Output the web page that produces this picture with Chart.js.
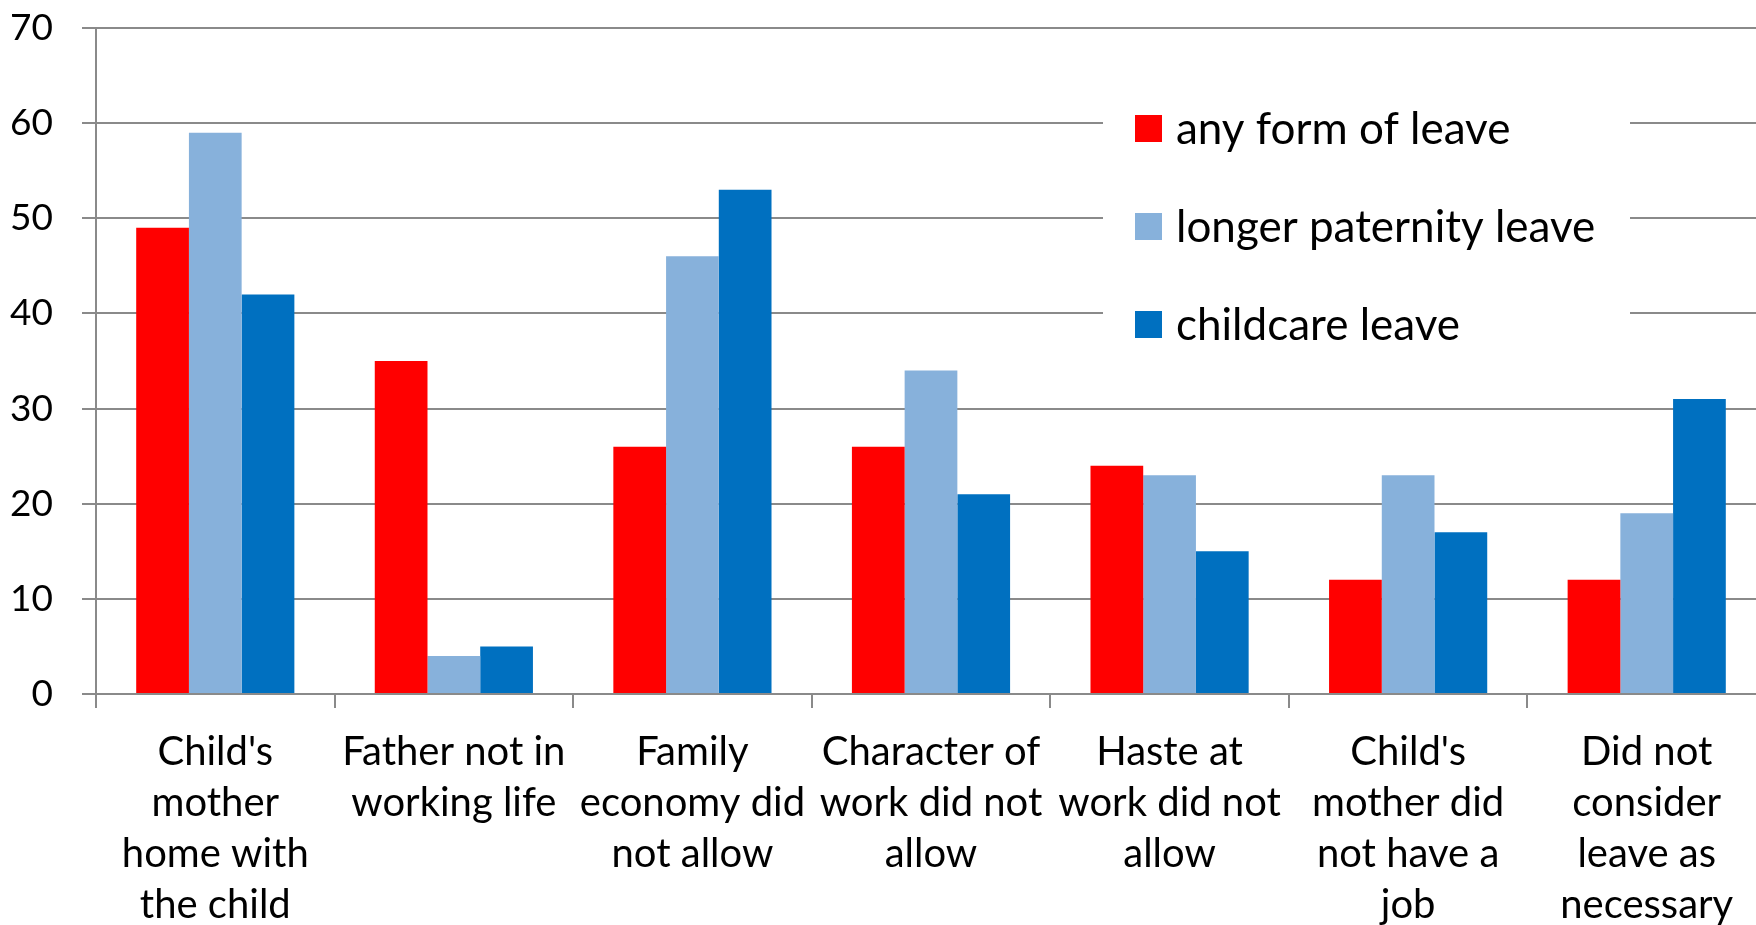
<!DOCTYPE html>
<html>
<head>
<meta charset="utf-8">
<script src="https://cdn.jsdelivr.net/npm/chart.js@4"></script>
<style>
    html, body { margin: 0; padding: 0; background: #fff; overflow: hidden; }
</style>
</head>
<body>
<canvas id="leaveChart" width="1770" height="925"></canvas>
<script>
const categories = [
    ["Child's", "mother", "home with", "the child"],
    ["Father not in", "working life"],
    ["Family", "economy did", "not allow"],
    ["Character of", "work did not", "allow"],
    ["Haste at", "work did not", "allow"],
    ["Child's", "mother did", "not have a", "job"],
    ["Did not", "consider", "leave as", "necessary"]
];
const seriesNames = ['any form of leave', 'longer paternity leave', 'childcare leave'];
const anyLeave = [49, 35, 26, 26, 24, 12, 12];
const longerPaternity = [59, 4, 46, 34, 23, 23, 19];
const childcareLeave = [42, 5, 53, 21, 15, 17, 31];
const yMin = 0, yMax = 70, yStep = 10;

const FONT = 'Lato';
const gridGray = '#8a8a8a';

// legend sits inside the plot on a white patch, like the original
const legendBox = {
    id: 'legendBox',
    afterDraw(chart) {
        const ctx = chart.ctx;
        ctx.save();
        ctx.fillStyle = '#fff';
        ctx.fillRect(1103, 80, 527, 290);
        ctx.font = '44px ' + FONT;
        ctx.textBaseline = 'middle';
        chart.data.datasets.forEach((ds, i) => {
            const y = 128.5 + i * 98;
            ctx.fillStyle = ds.backgroundColor;
            ctx.fillRect(1135, y - 13.5, 27, 27);
            ctx.fillStyle = '#000';
            ctx.fillText(ds.label, 1176, y + 1);
        });
        ctx.restore();
    }
};

function draw() {
    new Chart(document.getElementById('leaveChart'), {
        type: 'bar',
        data: {
            labels: categories,
            datasets: [
                { label: seriesNames[0], data: anyLeave, backgroundColor: '#ff0000' },
                { label: seriesNames[1], data: longerPaternity, backgroundColor: '#87b1db' },
                { label: seriesNames[2], data: childcareLeave, backgroundColor: '#0070c0' }
            ]
        },
        options: {
            responsive: false,
            animation: false,
            categoryPercentage: 0.663,
            barPercentage: 1,
            layout: { padding: { top: 28, right: 4, left: 0, bottom: 0 } },
            plugins: { legend: { display: false }, tooltip: { enabled: false } },
            scales: {
                x: {
                    afterFit: s => { s.height = 231; },
                    grid: { drawOnChartArea: false, drawTicks: true, tickLength: 14, color: gridGray, lineWidth: 2 },
                    border: { display: true, color: gridGray, width: 2 },
                    ticks: {
                        autoSkip: false, maxRotation: 0, minRotation: 0, padding: 18,
                        color: '#000', font: { family: FONT, size: 40, lineHeight: 1.28 }
                    }
                },
                y: {
                    min: yMin, max: yMax,
                    afterFit: s => { s.width = 96; s.paddingTop = 0; s.paddingBottom = 0; },
                    grid: { color: gridGray, lineWidth: 2, tickLength: 14 },
                    border: { display: true, color: gridGray, width: 2 },
                    ticks: {
                        stepSize: yStep, padding: 29, color: '#000',
                        font: { family: FONT, size: 37 }
                    }
                }
            }
        },
        plugins: [legendBox]
    });
}

document.fonts.load('40px ' + FONT).then(draw, draw);
</script>
</body>
</html>
